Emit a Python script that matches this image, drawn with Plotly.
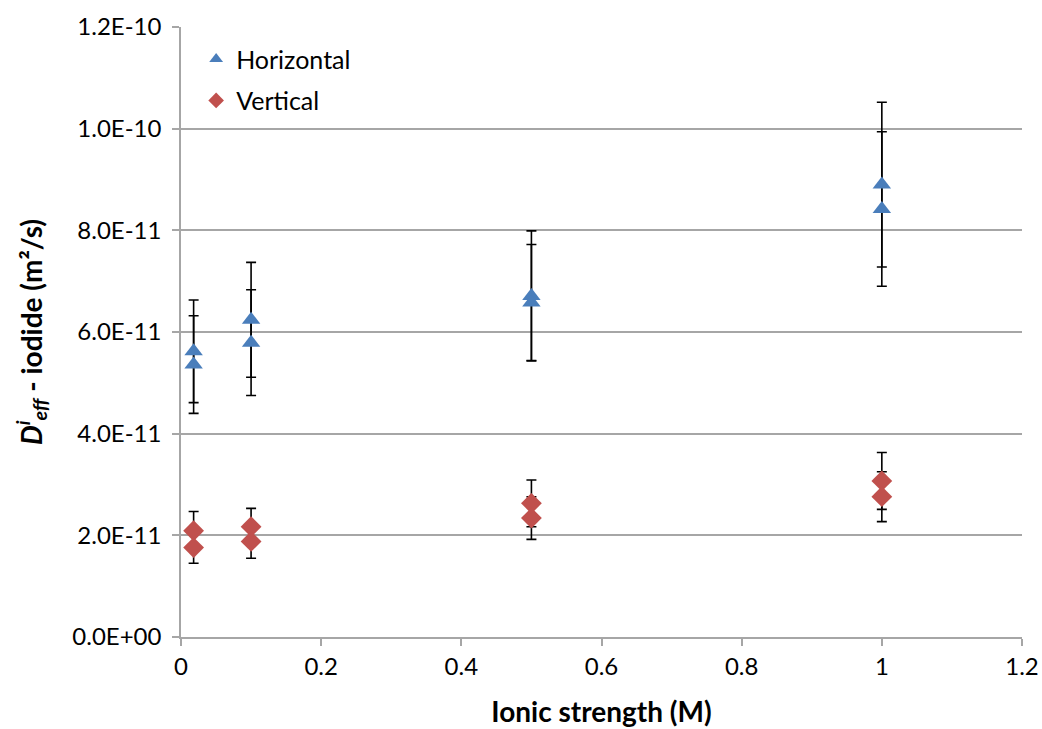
import plotly.graph_objects as go

# Data
ionic_strength = [0.018, 0.018, 0.1, 0.1, 0.5, 0.5, 1.0, 1.0]
horizontal = [5.62e-11, 5.36e-11, 6.24e-11, 5.79e-11, 6.71e-11, 6.58e-11, 8.90e-11, 8.42e-11]
horizontal_err = [1.01e-11, 0.96e-11, 1.13e-11, 1.04e-11, 1.28e-11, 1.14e-11, 1.62e-11, 1.52e-11]
vertical = [2.09e-11, 1.76e-11, 2.17e-11, 1.88e-11, 2.63e-11, 2.34e-11, 3.07e-11, 2.76e-11]
vertical_err = [0.38e-11, 0.31e-11, 0.36e-11, 0.33e-11, 0.46e-11, 0.42e-11, 0.56e-11, 0.49e-11]

y_tickvals = [0, 2e-11, 4e-11, 6e-11, 8e-11, 1.0e-10, 1.2e-10]
y_ticktext = ["0.0E+00", "2.0E-11", "4.0E-11", "6.0E-11", "8.0E-11", "1.0E-10", "1.2E-10"]
x_tickvals = [0, 0.2, 0.4, 0.6, 0.8, 1.0, 1.2]
x_ticktext = ["0", "0.2", "0.4", "0.6", "0.8", "1", "1.2"]

FONT = "Lato, 'Open Sans', sans-serif"
GRID = "#A6A6A6"

fig = go.Figure()
fig.add_trace(go.Scatter(
    x=ionic_strength, y=horizontal, mode="markers", name="Horizontal",
    legendgroup="h",
    marker=dict(symbol="triangle-up", size=16, color="#4A7EBB"),
    error_y=dict(type="data", array=horizontal_err, visible=True,
                 color="black", thickness=1.6, width=5),
))
fig.add_trace(go.Scatter(
    x=ionic_strength, y=vertical, mode="markers", name="Vertical",
    legendgroup="v",
    marker=dict(symbol="diamond", size=16, color="#C0504D"),
    error_y=dict(type="data", array=vertical_err, visible=True,
                 color="black", thickness=1.6, width=5),
))

fig.update_layout(
    width=1042, height=729,
    margin=dict(l=181, r=20, t=27, b=92, autoexpand=False),
    paper_bgcolor="white", plot_bgcolor="white",
    font=dict(family=FONT, size=24, color="black"),
    showlegend=True,
    legend=dict(x=0.018, y=0.985, xanchor="left", yanchor="top",
                bgcolor="rgba(255,255,255,0)", font=dict(size=25),
                tracegroupgap=6, itemsizing="constant", itemwidth=30),
    xaxis=dict(
        range=[0, 1.2], tickvals=x_tickvals, ticktext=x_ticktext,
        showgrid=False, zeroline=False,
        showline=True, linecolor=GRID, linewidth=1.5,
        ticks="outside", ticklen=7, tickcolor=GRID, tickwidth=1.5,
        tickfont=dict(size=24),
        title=dict(text="<b>Ionic strength (M)</b>", font=dict(size=28), standoff=24),
    ),
    yaxis=dict(
        range=[0, 1.2e-10], tickvals=y_tickvals, ticktext=y_ticktext,
        showgrid=True, gridcolor=GRID, gridwidth=1.5, zeroline=False,
        showline=True, linecolor=GRID, linewidth=1.5,
        ticks="outside", ticklen=7, tickcolor=GRID, tickwidth=1.5,
        ticklabelstandoff=6,
        tickfont=dict(size=24),
        title=dict(text="<b><i>D<sup>i</sup><sub>eff</sub></i> - iodide (m²/s)</b>",
                   font=dict(size=28), standoff=22),
    ),
)

fig.write_html("out.html")
